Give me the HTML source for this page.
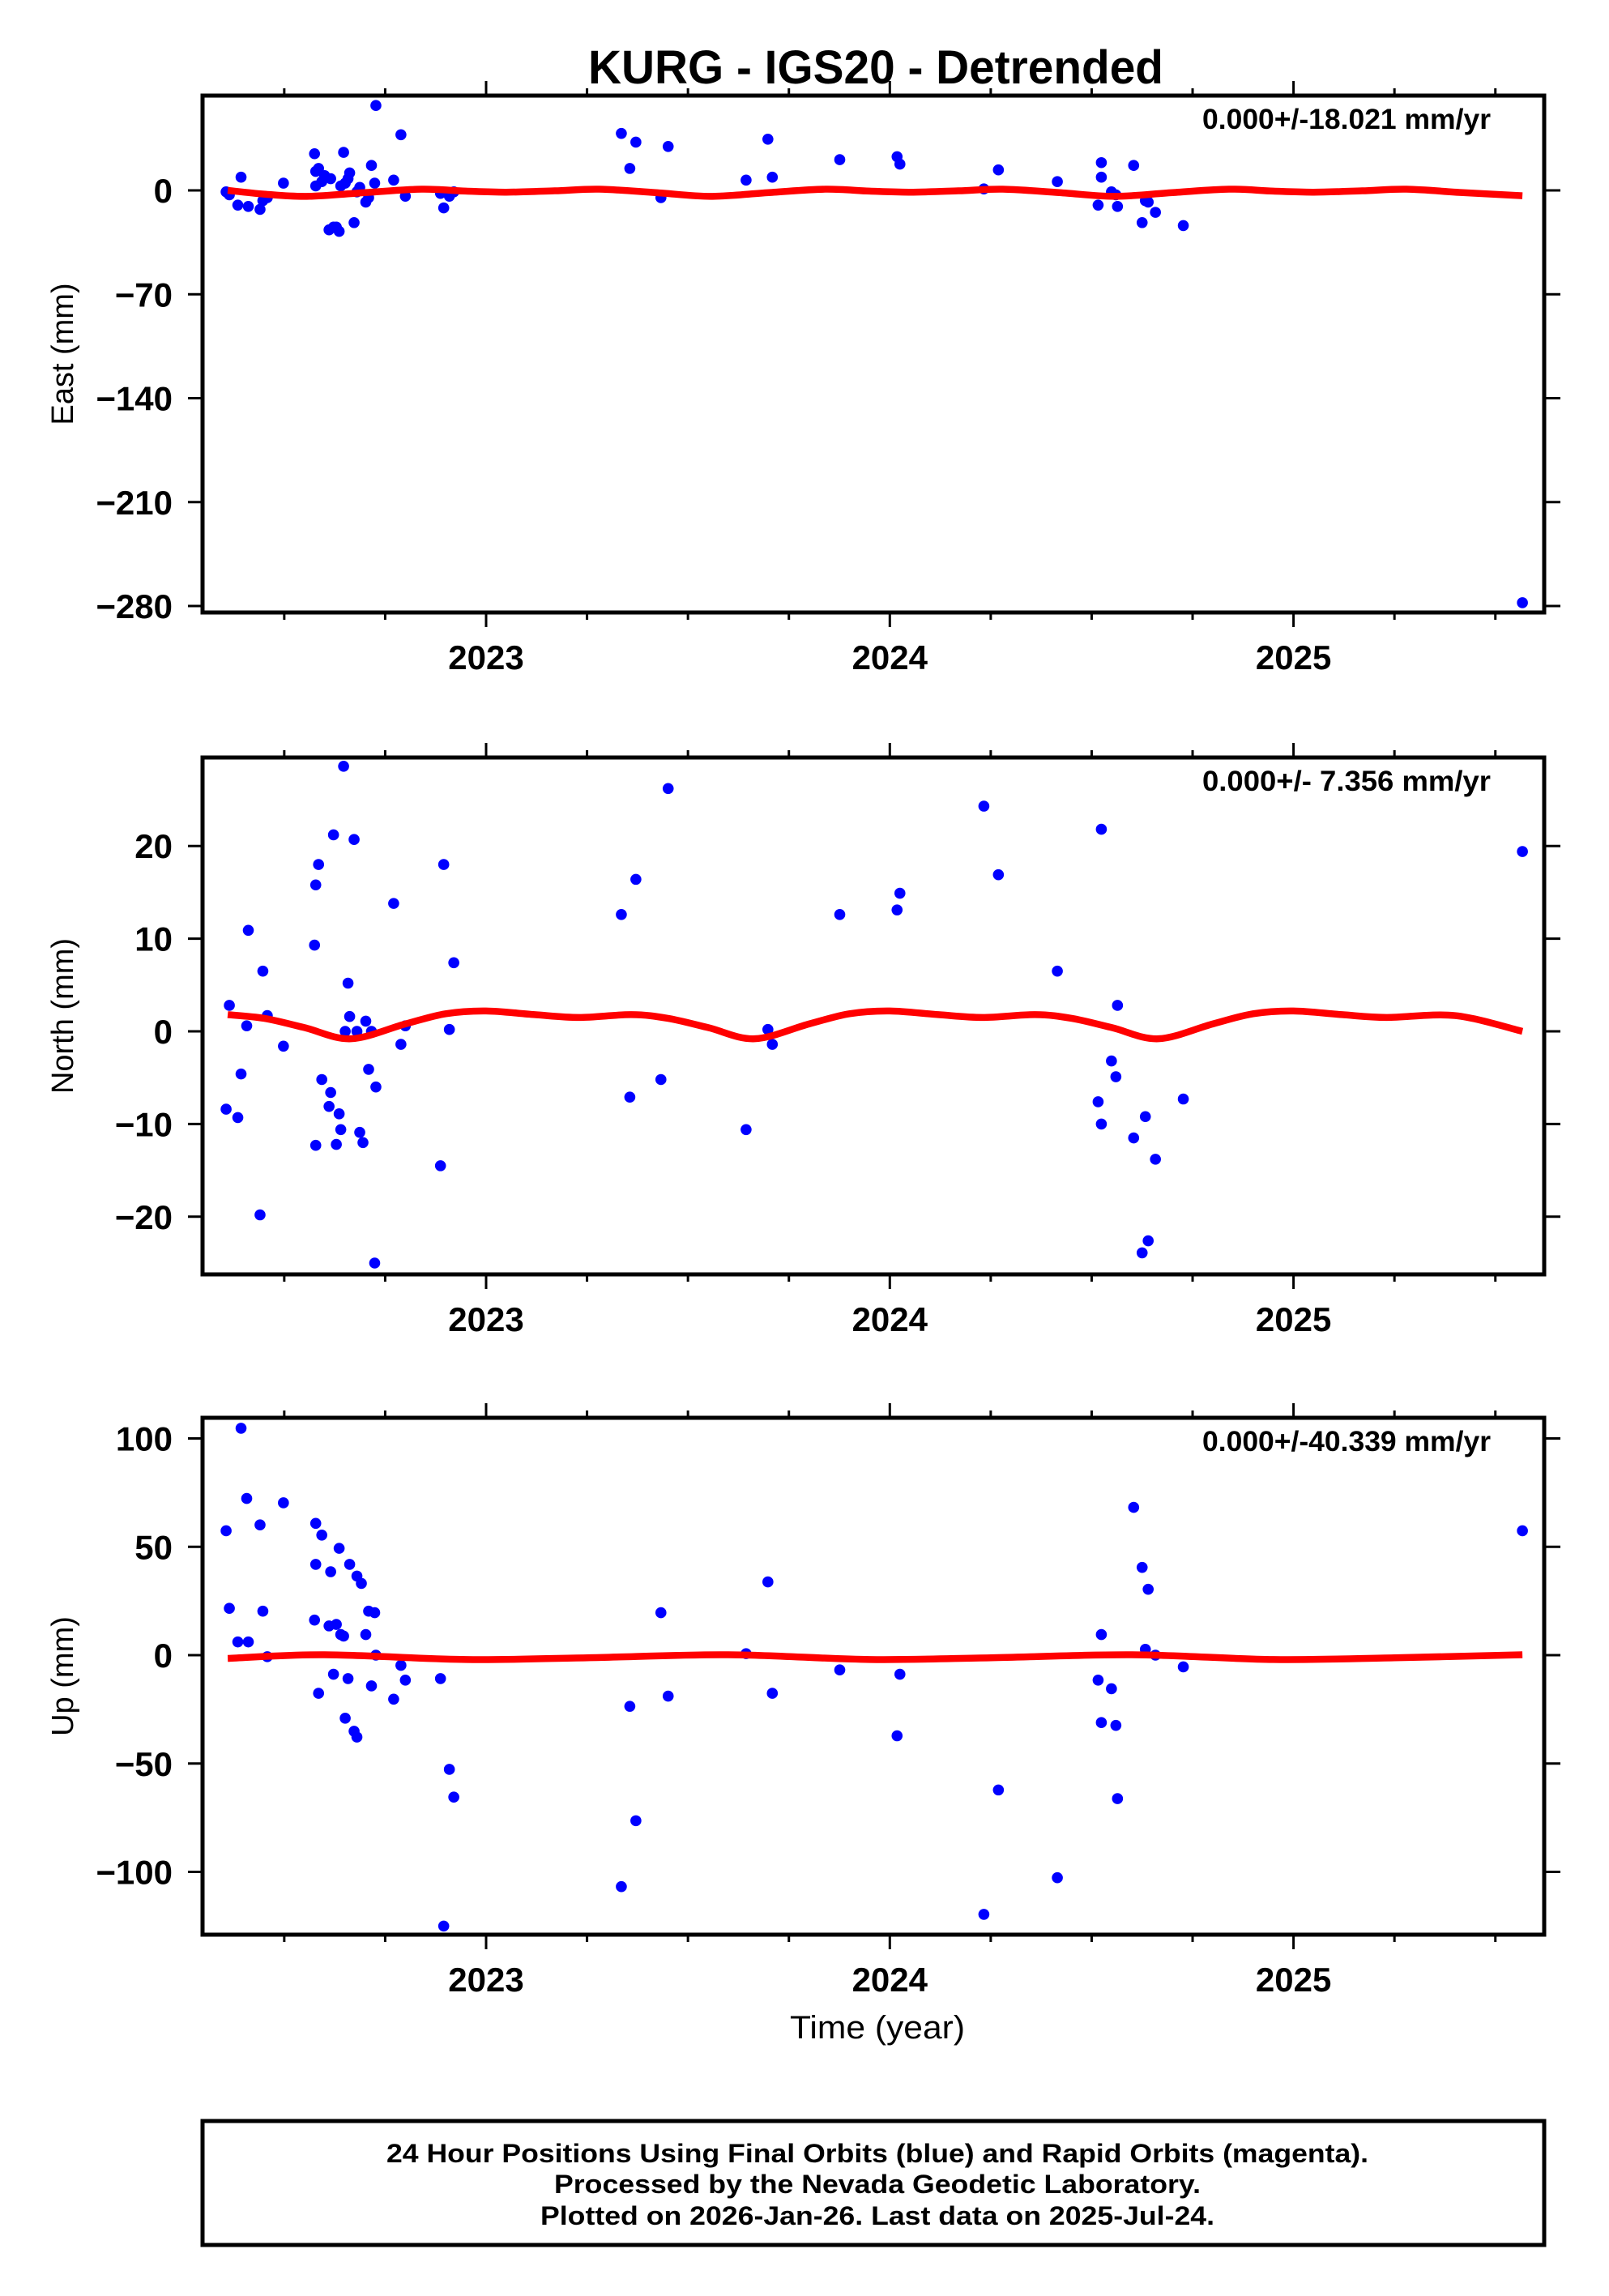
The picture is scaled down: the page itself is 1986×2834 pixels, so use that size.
<!DOCTYPE html>
<html><head><meta charset="utf-8">
<style>
html,body{margin:0;padding:0;background:#fff;}
svg{display:block;}
text{font-family:"Liberation Sans",Arial,sans-serif;}
</style></head>
<body>
<svg id="chart" xmlns="http://www.w3.org/2000/svg" width="1986" height="2834" viewBox="0 0 1986 2834">
<rect x="0" y="0" width="1986" height="2834" fill="#fff"/>
<text x="1081" y="103" text-anchor="middle" font-size="58" font-weight="bold" textLength="710" lengthAdjust="spacingAndGlyphs">KURG - IGS20 - Detrended</text>
<text x="1083" y="2516" text-anchor="middle" font-size="40" textLength="216" lengthAdjust="spacingAndGlyphs">Time (year)</text>
<g>
<rect x="250" y="2618" width="1656" height="153" fill="none" stroke="#000" stroke-width="5"/>
<text x="1083" y="2669" text-anchor="middle" font-size="32" font-weight="bold" textLength="1212" lengthAdjust="spacingAndGlyphs">24 Hour Positions Using Final Orbits (blue) and Rapid Orbits (magenta).</text>
<text x="1083" y="2707" text-anchor="middle" font-size="32" font-weight="bold" textLength="798" lengthAdjust="spacingAndGlyphs">Processed by the Nevada Geodetic Laboratory.</text>
<text x="1083" y="2746" text-anchor="middle" font-size="32" font-weight="bold" textLength="832" lengthAdjust="spacingAndGlyphs">Plotted on 2026-Jan-26. Last data on 2025-Jul-24.</text>
</g>
<g id="panels"></g>
</svg>
<script>
// ---- data ----
const eastT = [2022.356,2022.364,2022.385,2022.393,2022.411,2022.440,2022.447,2022.458,2022.498,2022.575,2022.578,2022.578,2022.585,2022.593,2022.600,2022.611,2022.615,2022.622,2022.629,2022.636,2022.640,2022.647,2022.651,2022.658,2022.662,2022.673,2022.680,2022.687,2022.702,2022.709,2022.716,2022.724,2022.727,2022.771,2022.789,2022.800,2022.887,2022.895,2022.909,2022.920,2023.335,2023.356,2023.371,2023.433,2023.451,2023.644,2023.698,2023.709,2023.876,2024.018,2024.025,2024.233,2024.269,2024.415,2024.516,2024.524,2024.524,2024.549,2024.560,2024.564,2024.604,2024.625,2024.633,2024.640,2024.658,2024.727,2025.567];
const eastV = [-1.0,-3.0,-9.9,8.9,-10.8,-12.8,-6.9,-4.9,4.9,24.7,12.8,3.0,14.8,5.9,9.9,-26.6,7.9,-24.7,-24.7,-27.6,3.0,25.6,4.9,7.9,11.8,-21.7,-1.0,2.0,-7.9,-4.9,16.8,4.9,57.2,6.9,37.5,-3.9,-2.0,-11.8,-3.9,-1.0,38.4,14.8,32.5,-4.9,29.6,6.9,34.5,8.9,20.7,22.7,17.7,1.0,13.8,5.9,-9.9,8.9,18.7,-1.0,-3.0,-10.8,16.8,-21.7,-6.9,-7.9,-14.8,-23.7,-277.8];
const northT = [2022.356,2022.364,2022.385,2022.393,2022.407,2022.411,2022.440,2022.447,2022.458,2022.498,2022.575,2022.578,2022.578,2022.585,2022.593,2022.611,2022.615,2022.622,2022.629,2022.636,2022.640,2022.647,2022.651,2022.658,2022.662,2022.673,2022.680,2022.687,2022.695,2022.702,2022.709,2022.716,2022.724,2022.727,2022.771,2022.789,2022.800,2022.887,2022.895,2022.909,2022.920,2023.335,2023.356,2023.371,2023.433,2023.451,2023.644,2023.698,2023.709,2023.876,2024.018,2024.025,2024.233,2024.269,2024.415,2024.516,2024.524,2024.524,2024.549,2024.560,2024.564,2024.604,2024.625,2024.633,2024.640,2024.658,2024.727,2025.567];
const northV = [-8.4,2.8,-9.3,-4.6,0.6,10.9,-19.8,6.5,1.7,-1.6,9.3,-12.3,15.8,18.0,-5.2,-8.1,-6.6,21.2,-12.2,-8.9,-10.6,28.6,0.0,5.2,1.6,20.7,0.0,-10.9,-12.0,1.1,-4.1,0.0,-25.0,-6.0,13.8,-1.4,0.6,-14.5,18.0,0.2,7.4,12.6,-7.1,16.4,-5.2,26.2,-10.6,0.2,-1.4,12.6,13.1,14.9,24.3,16.9,6.5,-7.6,-10.0,21.8,-3.2,-4.9,2.8,-11.5,-23.9,-9.2,-22.6,-13.8,-7.3,19.4];
const upT = [2022.356,2022.364,2022.385,2022.393,2022.411,2022.407,2022.440,2022.447,2022.458,2022.498,2022.575,2022.578,2022.578,2022.585,2022.593,2022.611,2022.615,2022.622,2022.629,2022.636,2022.640,2022.647,2022.651,2022.658,2022.662,2022.673,2022.680,2022.680,2022.691,2022.702,2022.709,2022.716,2022.724,2022.727,2022.771,2022.789,2022.800,2022.887,2022.895,2022.909,2022.920,2023.335,2023.356,2023.371,2023.433,2023.451,2023.644,2023.698,2023.709,2023.876,2024.018,2024.025,2024.233,2024.269,2024.415,2024.516,2024.524,2024.524,2024.549,2024.560,2024.564,2024.604,2024.625,2024.633,2024.640,2024.658,2024.727,2025.567];
const upV = [57.4,21.6,6.1,104.7,6.1,72.3,60.1,20.3,-0.7,70.3,16.2,60.8,41.9,-17.6,55.4,13.5,38.5,-8.8,14.2,49.3,9.5,8.8,-29.1,-10.8,41.9,-35.1,-37.8,36.5,33.1,9.5,20.3,-14.2,19.6,0.0,-20.3,-4.7,-11.5,-10.8,-125.0,-52.7,-65.5,-106.8,-23.6,-76.4,19.6,-18.9,0.7,33.8,-17.6,-6.8,-37.2,-8.8,-119.6,-62.2,-102.7,-11.5,9.5,-31.1,-15.5,-32.4,-66.2,68.2,40.5,2.7,30.4,0.0,-5.4,57.4];
const eastFitT = [2022.36,2022.45,2022.556,2022.70,2022.84,2022.95,2023.05,2023.17,2023.28,2023.42,2023.556,2023.70,2023.84,2023.95,2024.05,2024.17,2024.28,2024.42,2024.556,2024.70,2024.84,2024.95,2025.05,2025.17,2025.28,2025.42,2025.567];
const eastFitV = [0,-2.5,-4,-1.5,0.8,-0.5,-1.2,-0.3,0.8,-1.5,-4,-1.5,0.8,-0.5,-1.2,-0.3,0.8,-1.5,-4,-1.5,0.8,-0.5,-1.2,-0.3,0.8,-1.5,-3.6];
const northFitT = [2022.36,2022.45,2022.55,2022.665,2022.80,2022.90,2023.0,2023.12,2023.23,2023.36,2023.45,2023.55,2023.665,2023.80,2023.90,2024.0,2024.12,2024.23,2024.36,2024.45,2024.55,2024.665,2024.80,2024.90,2025.0,2025.12,2025.23,2025.40,2025.567];
const northFitV = [1.8,1.4,0.4,-0.8,0.8,1.9,2.2,1.8,1.5,1.8,1.4,0.4,-0.8,0.8,1.9,2.2,1.8,1.5,1.8,1.4,0.4,-0.8,0.8,1.9,2.2,1.8,1.5,1.7,0.0];
const upFitT = [2022.36,2022.6,2022.95,2023.25,2023.6,2023.95,2024.25,2024.6,2024.95,2025.25,2025.567];
const upFitV = [-1.5,0.2,-2,-1.2,0.2,-2,-1.2,0.2,-2,-1.2,0.2];
const eastTicks = [0,-70,-140,-210,-280];
const northTicks = [20,10,0,-10,-20];
const upTicks = [100,50,0,-50,-100];
const yearTicks = [2023,2024,2025];
const rateLabels = ["0.000+/-18.021 mm/yr","0.000+/- 7.356 mm/yr","0.000+/-40.339 mm/yr"];
const yTitles = ["East (mm)","North (mm)","Up (mm)"];

// ---- layout ----
const NS = "http://www.w3.org/2000/svg";
const L = 250, R = 1906;
const xOf = t => 600 + (t - 2023) * 498.3;
const panelDefs = [
  {top:118, bot:756, v0:235, pxPer:128.25/70, ticks:eastTicks, T:eastT, V:eastV, FT:eastFitT, FV:eastFitV, name:'east'},
  {top:935, bot:1573, v0:1273, pxPer:11.44, ticks:northTicks, T:northT, V:northV, FT:northFitT, FV:northFitV, name:'north'},
  {top:1750, bot:2388, v0:2043, pxPer:133.75/50, ticks:upTicks, T:upT, V:upV, FT:upFitT, FV:upFitV, name:'up'}
];
const root = document.getElementById('panels');
function mk(tag, attrs, parent){
  const e = document.createElementNS(NS, tag);
  for (const k in attrs) e.setAttribute(k, attrs[k]);
  parent.appendChild(e);
  return e;
}
function smoothPath(pts){
  let d = `M${pts[0][0]},${pts[0][1]}`;
  for (let i=0;i<pts.length-1;i++){
    const p0 = pts[Math.max(0,i-1)], p1 = pts[i], p2 = pts[i+1], p3 = pts[Math.min(pts.length-1,i+2)];
    const c1x = p1[0]+(p2[0]-p0[0])/6, c1y = p1[1]+(p2[1]-p0[1])/6;
    const c2x = p2[0]-(p3[0]-p1[0])/6, c2y = p2[1]-(p3[1]-p1[1])/6;
    d += ` C${c1x},${c1y} ${c2x},${c2y} ${p2[0]},${p2[1]}`;
  }
  return d;
}
panelDefs.forEach((p, idx) => {
  const yOf = v => p.v0 - v * p.pxPer;
  const g = mk('g', {}, root);
  
  
  const cp = mk('clipPath', {id:'clip'+idx}, g);
  mk('rect', {x:L, y:p.top, width:R-L, height:p.bot-p.top}, cp);
  for (let q = 2022.5; q <= 2025.51; q += 0.25){
    const x = xOf(q);
    const major = Math.abs(q - Math.round(q)) < 1e-6;
    const len = major ? 18 : 9;
    const t1 = mk('line', {x1:x, x2:x, y1:p.top, y2:p.top-len, stroke:'#000', 'stroke-width':3}, g);
    
    
    const t2 = mk('line', {x1:x, x2:x, y1:p.bot, y2:p.bot+len, stroke:'#000', 'stroke-width':3}, g);
    
    
  }
  yearTicks.forEach(yr => {
    const tx = mk('text', {x:xOf(yr), y:p.bot+70, 'text-anchor':'middle', 'font-size':42, 'font-weight':'bold'}, g);
    
    
    tx.textContent = yr;
  });
  p.ticks.forEach(v => {
    const y = yOf(v);
    const a = mk('line', {x1:L-18, x2:L, y1:y, y2:y, stroke:'#000', 'stroke-width':3}, g);
    
    
    const b = mk('line', {x1:R, x2:R+20, y1:y, y2:y, stroke:'#000', 'stroke-width':3}, g);
    
    
    const tx = mk('text', {x:213, y:y+15, 'text-anchor':'end', 'font-size':42, 'font-weight':'bold'}, g);
    
    
    tx.textContent = (v < 0 ? '\u2212' + Math.abs(v) : String(v));
  });
  const cy = (p.top + p.bot) / 2;
  const yt = mk('text', {x:0, y:0, transform:`translate(90,${cy}) rotate(-90)`, 'text-anchor':'middle', 'font-size':38}, g);
  
  
  yt.textContent = yTitles[idx];
  const pg = mk('g', {'clip-path':`url(#clip${idx})`}, g);
  
  
  p.T.forEach((t, i) => {
    const c = mk('circle', {cx:xOf(t), cy:yOf(p.V[i]), r:6.8, fill:'#0000ff'}, pg);
    
    
  });
  const pts = p.FT.map((t, i) => [xOf(t), yOf(p.FV[i])]);
  const path = mk('path', {d:smoothPath(pts), fill:'none', stroke:'#ff0000', 'stroke-width':8.5, 'stroke-linecap':'butt'}, pg);
  
  
  const fr = mk('rect', {x:L, y:p.top, width:R-L, height:p.bot-p.top, fill:'none', stroke:'#000', 'stroke-width':5}, g);
  
  
  const rl = mk('text', {x:1840, y:p.top+41, 'text-anchor':'end', 'font-size':35, 'font-weight':'bold', textLength:356, lengthAdjust:'spacingAndGlyphs'}, g);
  
  
  rl.setAttribute('xml:space', 'preserve');
  rl.style.whiteSpace = 'pre';
  rl.textContent = rateLabels[idx];
});
</script>
</body></html>
